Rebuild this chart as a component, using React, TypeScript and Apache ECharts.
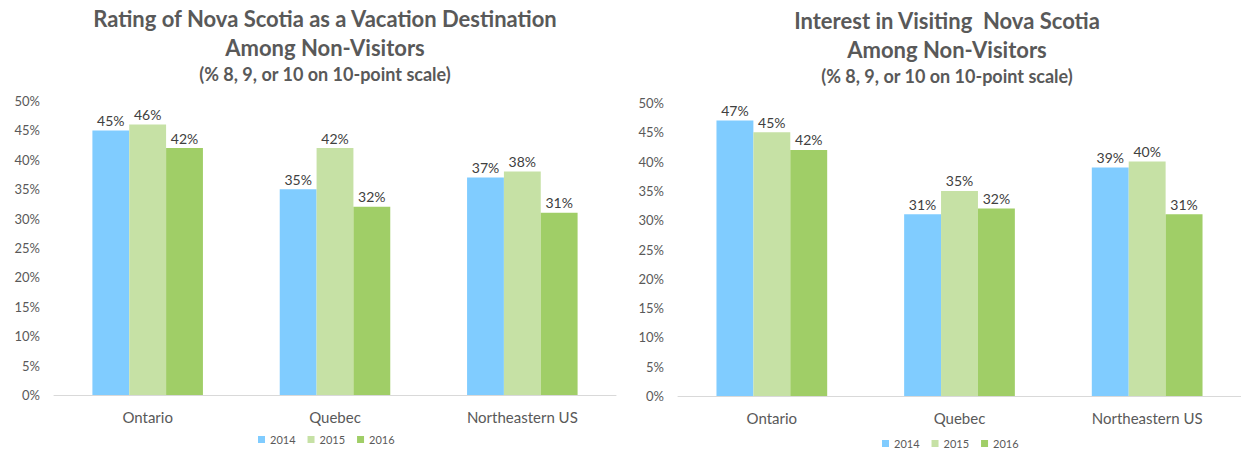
import React, { useEffect, useRef } from "react";
import * as echarts from "echarts";

const categories = ["Ontario", "Quebec", "Northeastern US"];
const years = ["2014", "2015", "2016"];
const colors = ["#80CCFF", "#C6E1A5", "#A0CE67"];

const ratingTitle = "Rating of Nova Scotia as a Vacation Destination\nAmong Non-Visitors";
const interestTitle = "Interest in Visiting  Nova Scotia\nAmong Non-Visitors";
const subtitle = "(% 8, 9, or 10 on 10-point scale)";

const rating2014 = [45, 35, 37];
const rating2015 = [46, 42, 38];
const rating2016 = [42, 32, 31];

const interest2014 = [47, 31, 39];
const interest2015 = [45, 35, 40];
const interest2016 = [42, 32, 31];

const FONT = "Lato";

export default function App() {
  const ref = useRef<HTMLDivElement>(null);
  useEffect(() => {
    document.body.style.margin = "0";
    const chart = echarts.init(ref.current!, null, { renderer: "svg" });
    const ratingData = [rating2014, rating2015, rating2016];
    const interestData = [interest2014, interest2015, interest2016];

    const makeSeries = (data: number[][], idx: number) =>
      data.map((vals, i) => ({
        type: "bar",
        name: years[i],
        xAxisIndex: idx,
        yAxisIndex: idx,
        data: vals,
        barGap: "0%",
        barCategoryGap: "41%",
        itemStyle: { color: colors[i] },
        label: {
          show: true,
          position: "top",
          formatter: "{c}%",
          color: "#404040",
          fontSize: 14,
          fontFamily: FONT,
          distance: 3,
        },
      }));

    const xAxis = (idx: number) => ({
      type: "category",
      gridIndex: idx,
      data: categories,
      axisLine: { lineStyle: { color: "#D9D9D9", width: 1 } },
      axisTick: { show: false },
      axisLabel: { color: "#595959", fontSize: 15, fontFamily: FONT, margin: 14 },
    });
    const yAxis = (idx: number) => ({
      type: "value",
      gridIndex: idx,
      min: 0,
      max: 50,
      interval: 5,
      splitLine: { show: false },
      axisLine: { show: false },
      axisTick: { show: false },
      axisLabel: {
        formatter: "{value}%",
        color: "#595959",
        fontSize: 13,
        fontFamily: FONT,
        margin: 14,
      },
    });

    const titleStyle = {
      color: "#595959",
      fontSize: 22,
      fontWeight: "bold",
      fontFamily: FONT,
      lineHeight: 29,
    };
    const subStyle = {
      color: "#595959",
      fontSize: 18,
      fontWeight: "bold",
      fontFamily: FONT,
      lineHeight: 20,
    };

    const legendBase = {
      data: years,
      itemWidth: 7,
      itemHeight: 7,
      itemGap: 12,
      icon: "rect",
      padding: 0,
      textStyle: { color: "#595959", fontSize: 11, fontFamily: FONT },
    };

    chart.setOption({
      animation: false,
      title: [
        {
          text: ratingTitle,
          subtext: subtitle,
          left: 320,
          top: -1,
          textAlign: "center",
          textStyle: titleStyle,
          subtextStyle: subStyle,
          itemGap: 2,
        },
        {
          text: interestTitle,
          subtext: subtitle,
          left: 942,
          top: 1,
          textAlign: "center",
          textStyle: titleStyle,
          subtextStyle: subStyle,
          itemGap: 2,
        },
      ],
      legend: [
        { ...legendBase, left: 258, top: 434 },
        { ...legendBase, left: 882, top: 438 },
      ],
      grid: [
        { left: 54, top: 101, width: 562, height: 294 },
        { left: 678, top: 103, width: 563, height: 293 },
      ],
      xAxis: [xAxis(0), xAxis(1)],
      yAxis: [yAxis(0), yAxis(1)],
      series: [...makeSeries(ratingData, 0), ...makeSeries(interestData, 1)],
    });
    return () => chart.dispose();
  }, []);
  return (
    <div
      ref={ref}
      style={{ position: "absolute", left: 0, top: 0, width: 1241, height: 453 }}
    />
  );
}
